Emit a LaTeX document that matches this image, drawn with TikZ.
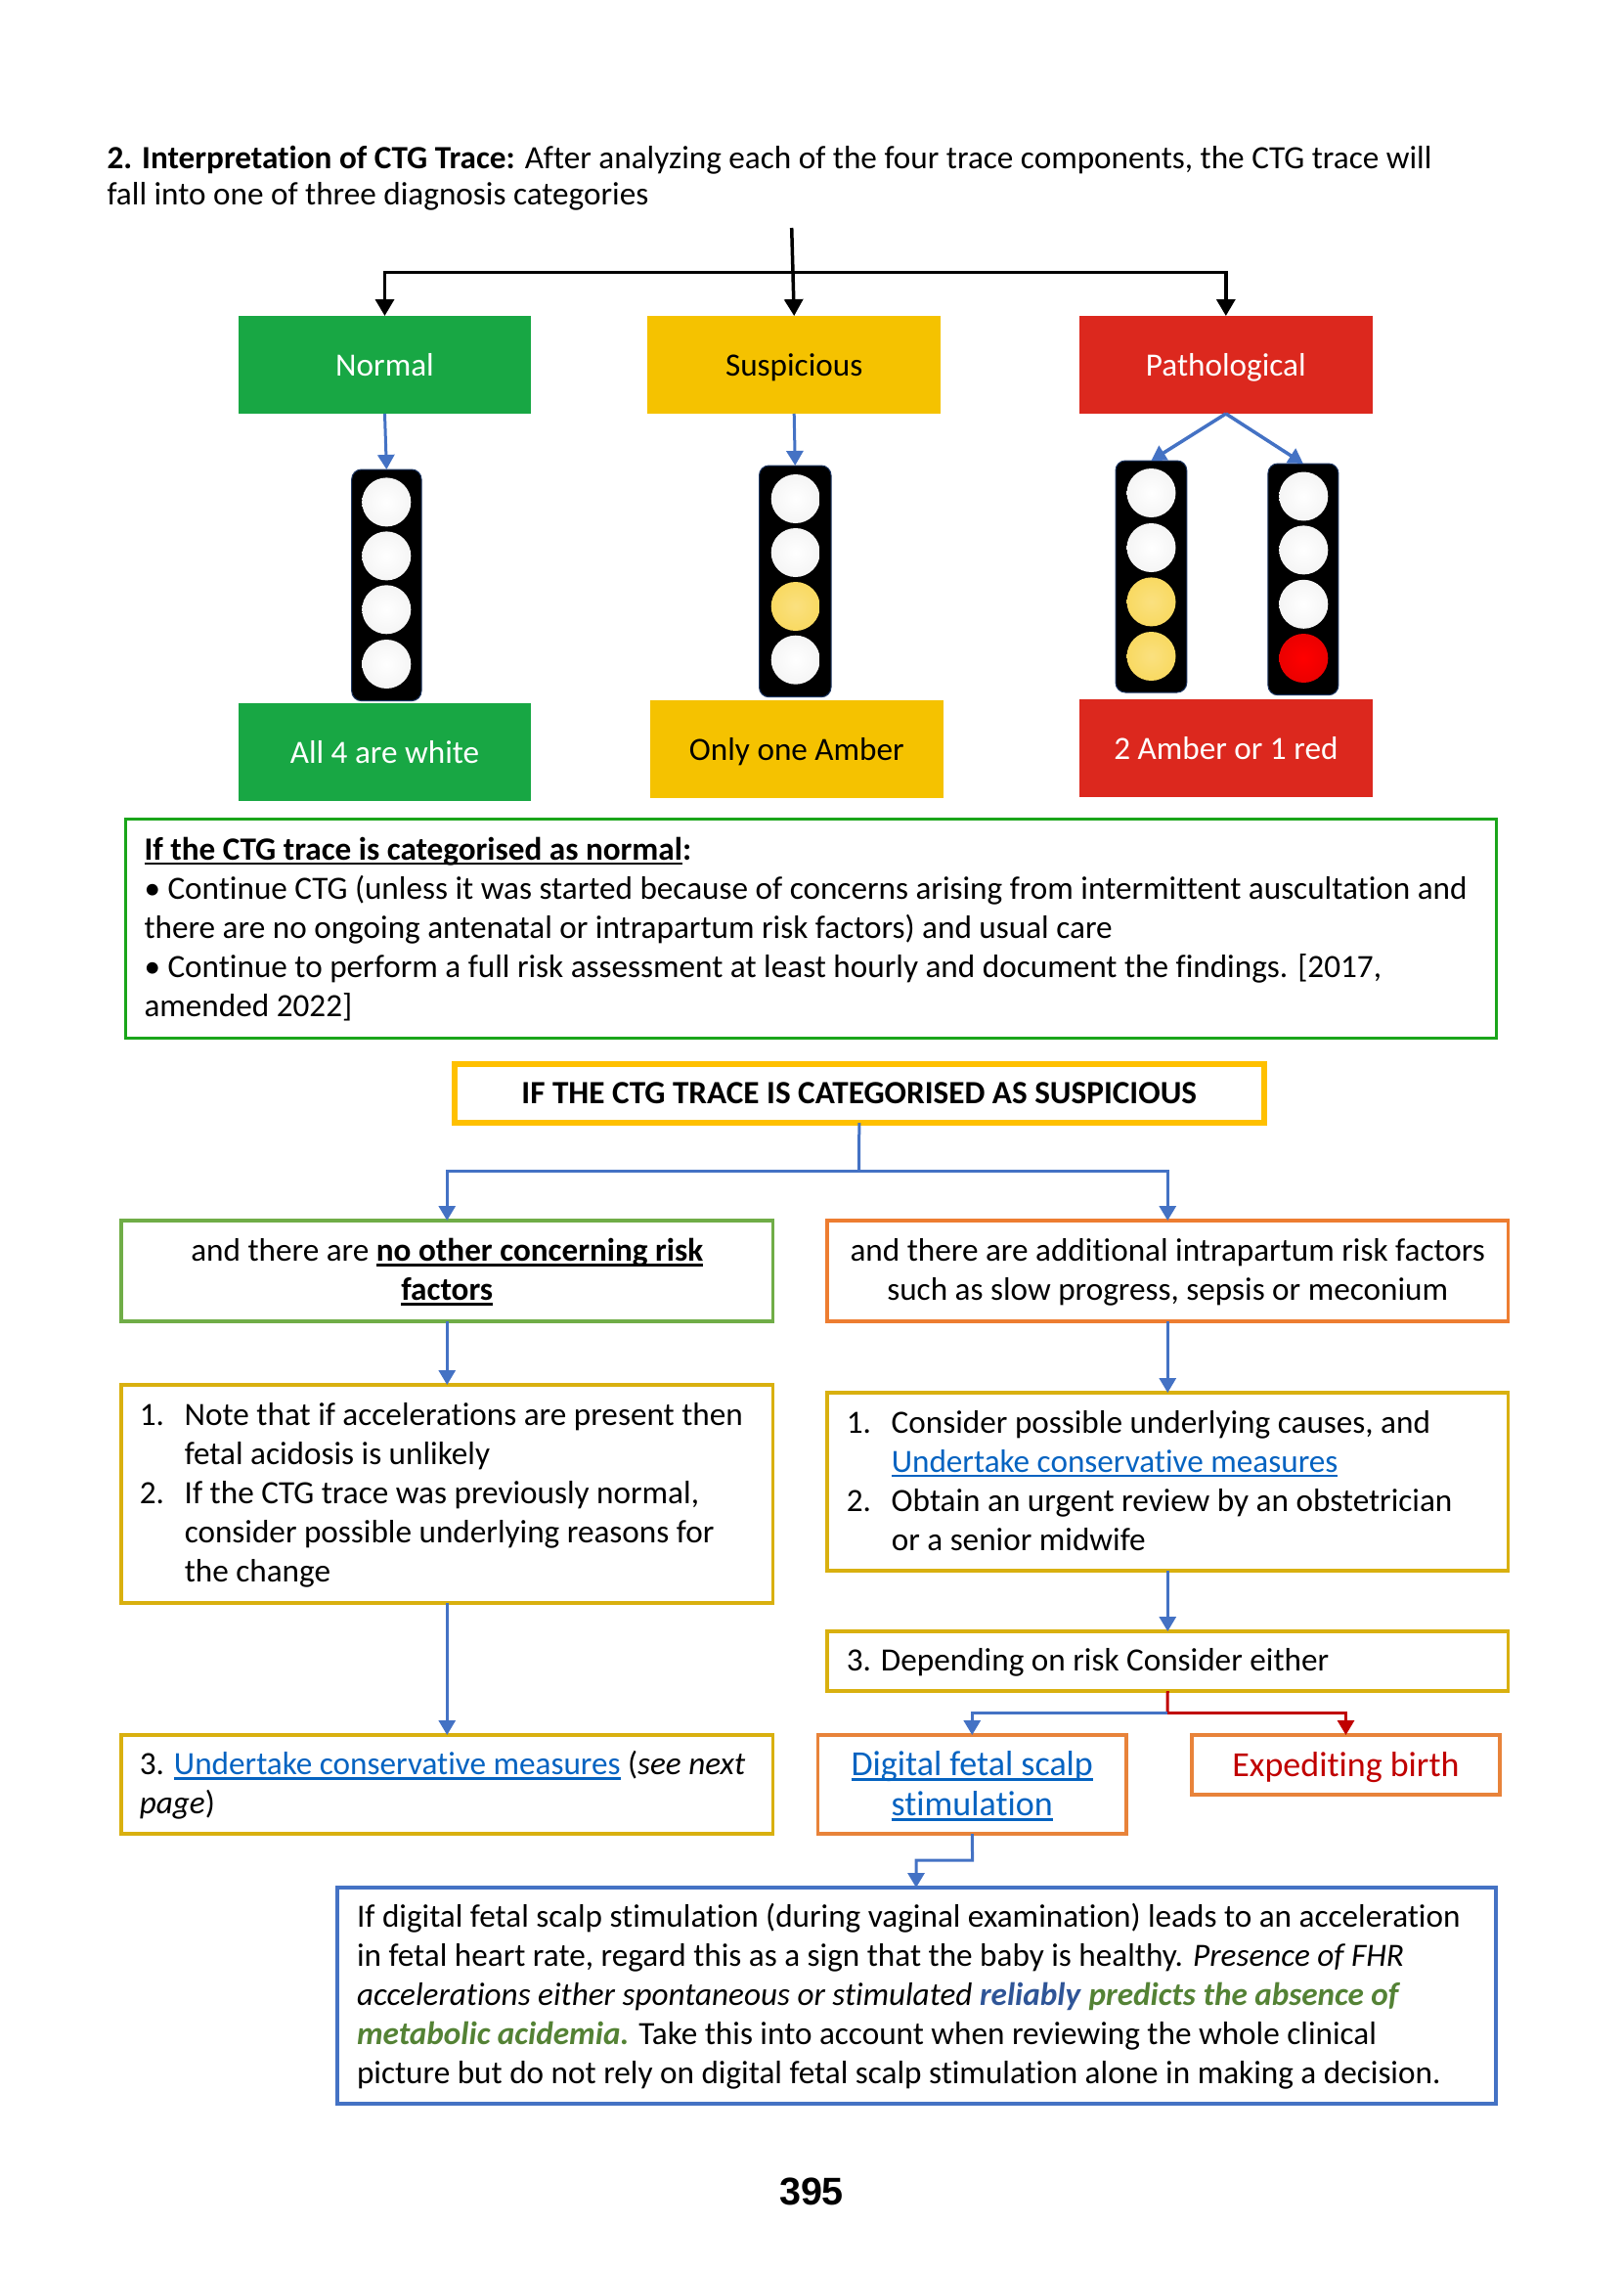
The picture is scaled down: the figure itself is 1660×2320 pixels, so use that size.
\documentclass[tikz,border=0pt]{standalone}
\usepackage{fontspec}
\setmainfont[Ligatures=NoCommon]{Carlito}
\newfontfamily\pagefont{Liberation Sans}
\usetikzlibrary{arrows.meta,calc}
\definecolor{cgreen}{HTML}{18A744}
\definecolor{camber}{HTML}{F5C200}
\definecolor{cred}{HTML}{DC281E}
\definecolor{bgreen}{HTML}{1AA51A}
\definecolor{bhead}{HTML}{FFC000}
\definecolor{bolive}{HTML}{70AD47}
\definecolor{borange}{HTML}{ED7D31}
\definecolor{bdigit}{HTML}{E8833A}
\definecolor{byellow}{HTML}{D9B00F}
\definecolor{bblue}{HTML}{4472C4}
\definecolor{linkc}{HTML}{0563C1}
\definecolor{redd}{HTML}{C00000}
\definecolor{relc}{HTML}{2F5597}
\definecolor{predc}{HTML}{548235}
\definecolor{tlo}{HTML}{1F3864}
\newcommand\tf{\fontsize{33.2}{40}\selectfont}
\newcommand\bigf{\fontsize{36}{41}\selectfont}
\newcommand\ulin[1]{\leavevmode\setbox0=\hbox{#1}\rlap{\rule[-5pt]{\wd0}{2.2pt}}\box0\relax}
\newcommand\bx[7][]{\node[#1,minimum width={(#5-#3)*1pt},minimum height={(#6-#4)*1pt}] (#2) at ({(#3+#5)/2},{(#4+#6)/2}) {#7};}
\newcommand\num[1]{\makebox[46pt][l]{#1}}
\newcommand\ind{\hspace*{46pt}}
\newcommand\fs{\rule[-8pt]{0pt}{36pt}}
\newcommand\fsb{\rule[-8pt]{0pt}{39pt}}
\tikzset{
  x=1pt,y=-1pt,
  every node/.style={outer sep=0pt,font=\tf},
  fillbox/.style={rectangle,inner sep=0pt,align=center,text height=28pt,text depth=6pt},
  framed/.style={rectangle,draw=#1,line width=3.5pt,inner sep=0pt,align=center},
  leftbox/.style={align=flush left,text width=#1},
  tlight/.style={rectangle,rounded corners=10pt,fill=black,draw=tlo,line width=1pt,inner sep=0pt},
  lampw/.style={circle,minimum size=50pt,inner sep=0pt,inner color=white,outer color=black!4},
  lampa/.style={circle,minimum size=50pt,inner sep=0pt,inner color=camber!50!white,outer color=camber!62!white},
  lampr/.style={circle,minimum size=50pt,inner sep=0pt,inner color=red,outer color=red!92!black},
  blk/.style={draw=black,line width=3.5pt,-{Triangle[length=17pt,width=19pt]}},
  blu/.style={draw=bblue,line width=3pt,-{Triangle[length=15pt,width=17pt]}},
  rdl/.style={draw=redd,line width=3pt,-{Triangle[length=15pt,width=17pt]}},
}
\begin{document}
\begin{tikzpicture}
\useasboundingbox (0,0) rectangle (1660,2320);
\node[anchor=north west,inner sep=0pt,align=flush left,text width=1440pt,font=\fontsize{33.2}{37}\selectfont] (title) at (109.5,149.5) {\textbf{2. Interpretation of CTG Trace:} After analyzing each of the four trace components, the CTG trace will\\fall into one of three diagnosis categories};
\coordinate (top) at (809.7,233);
\coordinate (jn) at (809.7,278.5);
\bx[fillbox,fill=cgreen,text=white]{normal}{244}{323}{543}{423}{Normal}
\bx[fillbox,fill=camber]{susp}{662}{323}{962.4}{423}{Suspicious}
\bx[fillbox,fill=cred,text=white]{patho}{1104}{323}{1403.6}{423}{Pathological}
\bx[fillbox,fill=cgreen,text=white]{all}{244}{719}{543}{819}{All 4 are white}
\bx[fillbox,fill=camber]{only}{665}{716}{964.7}{816}{Only one Amber}
\bx[fillbox,fill=cred,text=white]{two}{1104}{715}{1403.6}{815}{2 Amber or 1 red}
\bx[tlight]{tA}{359.7}{480}{431}{716.6}{}
\bx[tlight]{tB}{776.5}{476}{850}{712.7}{}
\bx[tlight]{tC}{1141}{471}{1213.8}{708}{}
\bx[tlight]{tD}{1296.9}{474}{1368.9}{710.7}{}
\node[lampw] (a1) at (395.3,513.4) {};
\node[lampw] (a2) at (395.3,568.4) {};
\node[lampw] (a3) at (395.3,623.3) {};
\node[lampw] (a4) at (395.3,679) {};
\node[lampw] (b1) at (813.7,510) {};
\node[lampw] (b2) at (813.7,565) {};
\node[lampa] (b3) at (813.7,620) {};
\node[lampw] (b4) at (813.7,674.7) {};
\node[lampw] (c1) at (1177.5,504) {};
\node[lampw] (c2) at (1177.5,560) {};
\node[lampa] (c3) at (1177.5,615.4) {};
\node[lampa] (c4) at (1177.5,671) {};
\node[lampw] (d1) at (1333.3,507.5) {};
\node[lampw] (d2) at (1333.3,562.4) {};
\node[lampw] (d3) at (1333.3,617.8) {};
\node[lampr] (d4) at (1333.3,673) {};
\bx[framed=bgreen,line width=3pt,leftbox=1363pt]{nbox}{128}{837}{1530}{1061}{\fs\textbf{\ulin{If the CTG trace is categorised as normal}:}\\• Continue CTG (unless it was started because of concerns arising from intermittent auscultation and\\there are no ongoing antenatal or intrapartum risk factors) and usual care\\• Continue to perform a full risk assessment at least hourly and document the findings. [2017,\\\fs amended 2022]}
\bx[framed=bhead,line width=6pt]{hdr}{464.5}{1088}{1293}{1148}{\fs\textbf{IF THE CTG TRACE IS CATEGORISED AS SUSPICIOUS}}
\coordinate (hj) at (878.7,1197);
\bx[framed=bolive]{lrisk}{124}{1248}{790.5}{1351}{\fs and there are \textbf{\ulin{no other concerning risk}}\\\fs\textbf{\ulin{factors}}}
\bx[framed=borange]{rrisk}{846}{1248}{1542.5}{1351}{\fs and there are additional intrapartum risk factors\\\fs such as slow progress, sepsis or meconium}
\bx[framed=byellow,leftbox=629pt]{llist}{124}{1416}{790.5}{1639}{\fs\num{1.}Note that if accelerations are present then\\\ind fetal acidosis is unlikely\\\num{2.}If the CTG trace was previously normal,\\\ind consider possible underlying reasons for\\\fs\ind the change}
\bx[framed=byellow,leftbox=657pt]{rlist}{846}{1424}{1542.5}{1606}{\fs\num{1.}Consider possible underlying causes, and\\\ind {\color{linkc}\ulin{Undertake conservative measures}}\\\num{2.}Obtain an urgent review by an obstetrician\\\fs\ind or a senior midwife}
\bx[framed=byellow,leftbox=657pt]{dep}{846}{1668}{1542.5}{1729}{\fs 3. Depending on risk Consider either}
\bx[framed=byellow,leftbox=629pt]{under}{124}{1774}{790.5}{1875}{\fs 3. {\color{linkc}\ulin{Undertake conservative measures}} (\textit{see next}\\\fs\textit{page})}
\bx[framed=bdigit,font=\bigf,text=linkc]{dig}{836.5}{1774}{1152}{1875}{\fsb\ulin{Digital fetal scalp}\\\fsb\ulin{stimulation}}
\bx[framed=bdigit,font=\bigf,text=redd]{exp}{1219}{1774}{1534}{1835}{\fsb Expediting birth}
\bx[framed=bblue,line width=3.5pt,leftbox=1145pt]{fsb}{345}{1930}{1530}{2151}{\fs If digital fetal scalp stimulation (during vaginal examination) leads to an acceleration\\in fetal heart rate, regard this as a sign that the baby is healthy. \textit{Presence of FHR}\\\textit{accelerations either spontaneous or stimulated} {\color{relc}\textbf{\textit{reliably}}} {\color{predc}\textbf{\textit{predicts the absence of}}}\\{\color{predc}\textbf{\textit{metabolic acidemia.}}} Take this into account when reviewing the whole clinical\\\fs picture but do not rely on digital fetal scalp stimulation alone in making a decision.}
\node[font=\pagefont\bfseries\fontsize{39.5}{42}\selectfont] (pg) at (830,2241) {395};
\coordinate (dj) at (1194,1751);
\coordinate (fj) at (994.6,1902);
\coordinate (fe) at (937,1930);
\draw[blk] (top) -- (susp.north);
\draw[blk] (jn) -| (normal.north);
\draw[blk] (jn) -| (patho.north);
\draw[blu] (normal.south) -- (tA.north);
\draw[blu] (susp.south) -- (tB.north);
\draw[blu,line width=3.5pt] (patho.south) -- (tC.north);
\draw[blu,line width=3.5pt] (patho.south) -- (tD.north);
\draw[draw=bblue,line width=3pt] (hdr.south) -- (hj);
\draw[blu] (hj) -| (lrisk.north);
\draw[blu] (hj) -| (rrisk.north);
\draw[blu] (lrisk.south) -- (llist.north);
\draw[blu] (rrisk.south) -- (rlist.north);
\draw[blu] (llist.south) -- (under.north);
\draw[blu] (rlist.south) -- (dep.north);
\draw[draw=redd,line width=3pt] (dep.south) -- (dj);
\draw[blu] (dj) -| (dig.north);
\draw[rdl] (dj) -| (exp.north);
\draw[blu] (dig.south) -- (fj) -| (fe);
\end{tikzpicture}
\end{document}
